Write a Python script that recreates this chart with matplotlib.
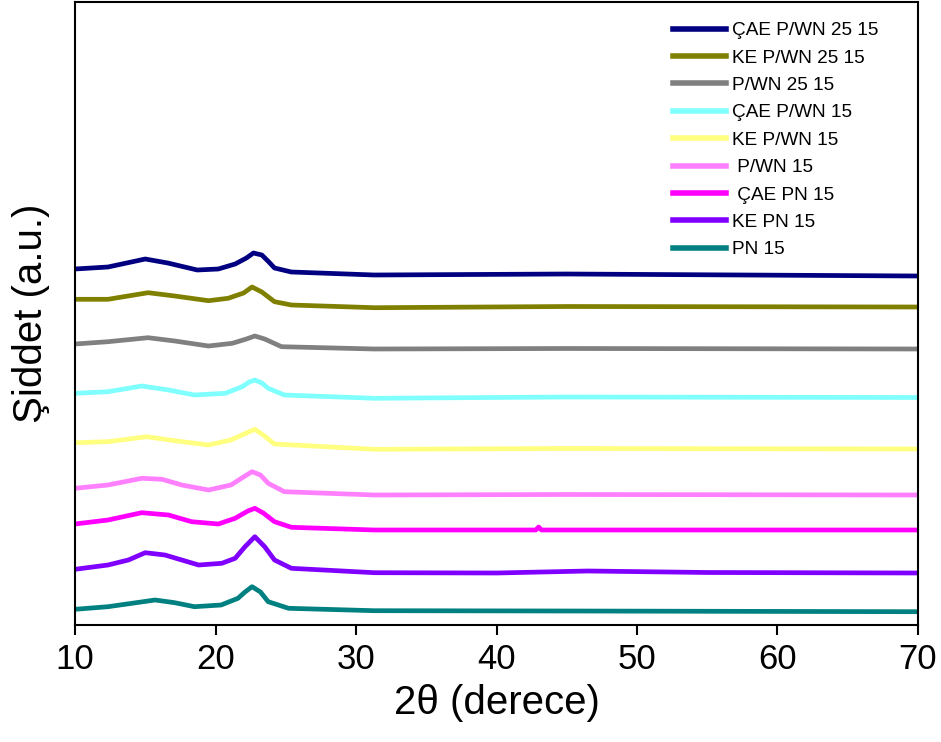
import matplotlib
matplotlib.use("Agg")
import matplotlib.pyplot as plt

plt.rcParams['font.family'] = ['Liberation Sans', 'DejaVu Sans']

# ---- data (intensity in arbitrary units, curves already offset) ----
labels = ["ÇAE P/WN 25 15", "KE P/WN 25 15", "P/WN 25 15", "ÇAE P/WN 15",
          "KE P/WN 15", " P/WN 15", " ÇAE PN 15", "KE PN 15", "PN 15"]
colors = ["#000080", "#808000", "#808080", "#80FFFF", "#FFFF80",
          "#FF80FF", "#FF00FF", "#8000FF", "#008080"]

x_cae_pwn2515 = [10, 12.35, 15.0, 16.6, 18.7, 20.2, 21.4, 22.2, 22.7, 23.3, 23.8, 24.2, 25.4, 31.3, 45, 70]
y_cae_pwn2515 = [356, 358, 366, 362, 355, 356, 361, 367, 372, 370, 363, 357, 353, 350, 351, 349]

x_ke_pwn2515 = [10, 12.35, 15.2, 17.1, 19.5, 20.9, 22.0, 22.6, 23.3, 24.2, 25.4, 31.3, 45, 70]
y_ke_pwn2515 = [325.7, 325.7, 332.3, 329, 324.3, 326.7, 332, 338, 333, 323.3, 320, 317.3, 318.5, 318]

x_pwn2515 = [10, 12.35, 15.2, 17.1, 19.5, 21.2, 22.2, 22.8, 23.5, 24.7, 31.3, 45, 70]
y_pwn2515 = [281, 283.3, 287.3, 284, 279, 281.7, 286, 289, 286, 278.3, 276, 276.5, 276]

x_cae_pwn15 = [10, 12.35, 14.75, 16.65, 18.5, 20.7, 21.9, 22.4, 22.8, 23.3, 23.75, 24.9, 31.3, 45, 70]
y_cae_pwn15 = [231.7, 233.3, 239, 235, 230, 231.7, 238.3, 243, 245, 242, 236.7, 230, 226.7, 228, 227.5]

x_ke_pwn15 = [10, 12.35, 15.1, 17.1, 19.5, 21.1, 22.2, 22.8, 23.4, 24.2, 31.3, 45, 70]
y_ke_pwn15 = [182.3, 183.3, 188.3, 184.3, 180, 185, 192, 195.7, 190, 181, 175.7, 176.5, 176]

x_pwn15 = [10, 12.35, 14.75, 16.2, 17.6, 19.5, 21.1, 22.1, 22.6, 23.2, 23.75, 24.9, 31.3, 45, 70]
y_pwn15 = [136.7, 140, 146.7, 145.7, 140, 135, 140, 149, 153.3, 150, 141.7, 133.3, 130, 130.5, 130]

x_cae_pn15 = [10, 12.35, 14.75, 16.65, 18.3, 20.2, 21.4, 22.3, 22.8, 23.4, 24.2, 25.4, 31.3, 42.8, 43.0, 43.2, 70]
y_cae_pn15 = [101, 105, 112.3, 110, 103.3, 101, 106.7, 114, 116.7, 112, 103.3, 97.7, 95, 95, 98, 95, 95]

x_ke_pn15 = [10, 12.35, 13.8, 15.0, 16.4, 17.6, 18.8, 20.45, 21.4, 22.1, 22.8, 23.5, 24.2, 25.4, 31.3, 40, 46.5, 55, 70]
y_ke_pn15 = [55.7, 60, 65, 72.3, 70, 65, 60, 61.7, 66.7, 78.3, 88.3, 78.3, 65, 56.7, 52.3, 52, 54, 52.5, 52]

x_pn15 = [10, 12.35, 15.7, 17.1, 18.5, 20.4, 21.6, 22.1, 22.6, 23.2, 23.75, 25.2, 31.3, 45, 70]
y_pn15 = [15.7, 18.3, 25, 22.3, 18.3, 20, 26.7, 33, 38.3, 33, 23.3, 16.7, 14.3, 14, 13.3]

series_x = [x_cae_pwn2515, x_ke_pwn2515, x_pwn2515, x_cae_pwn15, x_ke_pwn15,
            x_pwn15, x_cae_pn15, x_ke_pn15, x_pn15]
series_y = [y_cae_pwn2515, y_ke_pwn2515, y_pwn2515, y_cae_pwn15, y_ke_pwn15,
            y_pwn15, y_cae_pn15, y_ke_pn15, y_pn15]

x_ticks = [10, 20, 30, 40, 50, 60, 70]

# ---- figure ----
fig = plt.figure(figsize=(9.41, 7.42), dpi=100)
ax = fig.add_axes([75 / 941, 117 / 742, 843 / 941, 623 / 742])

for xs, ys, lab, col in zip(series_x, series_y, labels, colors):
    ax.plot(xs, ys, color=col, lw=3.4, label=lab, solid_joinstyle='round')

ax.set_xlim(10, 70)
ax.set_ylim(0, 623)
ax.set_xticks(x_ticks)
ax.set_xticklabels([str(t) for t in x_ticks])
ax.set_yticks([])
for s in ax.spines.values():
    s.set_linewidth(1.5)
ax.tick_params(axis='x', direction='out', length=7, width=1.5, labelsize=25, pad=6)

ax.set_xlabel("2θ (derece)", fontsize=29, labelpad=6)
ax.set_ylabel("Şiddet (a.u.)", fontsize=29, labelpad=18)

leg = ax.legend(loc='upper left', bbox_to_anchor=(0.709, 0.968), frameon=False,
                fontsize=13.7, handlelength=2.8, handletextpad=0.3,
                labelspacing=0.53, borderpad=0, borderaxespad=0)
for h in leg.get_lines():
    h.set_linewidth(4)

fig.savefig("out.png", dpi=100, facecolor='white')
